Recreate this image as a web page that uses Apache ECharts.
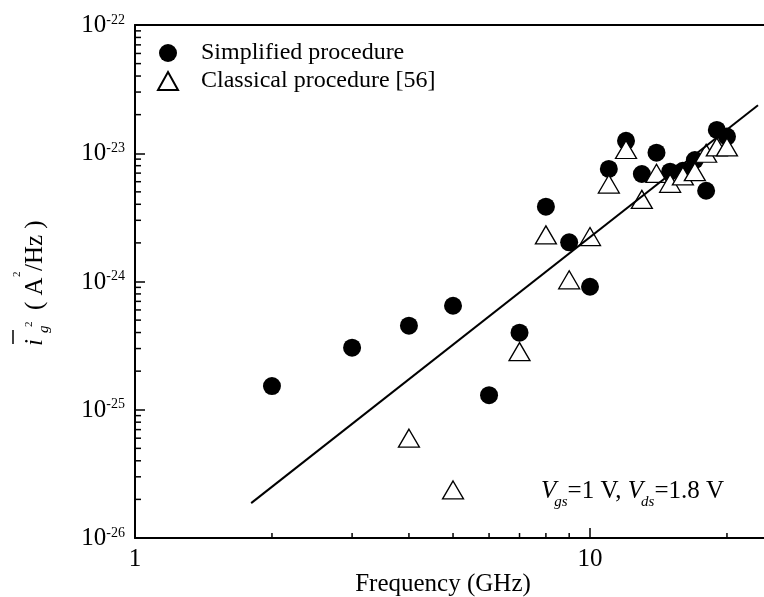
<!DOCTYPE html>
<html>
<head>
<meta charset="utf-8">
<script src="https://cdn.jsdelivr.net/npm/echarts@6/dist/echarts.min.js"></script>
<style>
  html, body { margin: 0; padding: 0; background: #fff; }
  #chart { width: 764px; height: 597px; }
</style>
</head>
<body>
<div id="chart"></div>
<script>
// Gate current noise spectral density (A^2/Hz) versus frequency (GHz)
const freqSimplified = [2, 3, 4, 5, 6, 7, 8, 9, 10, 11, 12, 13, 14, 15, 16, 17, 18, 19, 20];
const noiseSimplified = [1.53e-25, 3.05e-25, 4.52e-25, 6.47e-25, 1.30e-25, 3.99e-25, 3.83e-24, 2.02e-24, 9.1e-25,
  7.54e-24, 1.25e-23, 6.89e-24, 1.01e-23, 7.18e-24, 7.3e-24, 8.85e-24, 5.1e-24, 1.52e-23, 1.35e-23];

const freqClassical = [4, 5, 7, 8, 9, 10, 11, 12, 13, 14, 15, 16, 17, 18, 19, 20];
const noiseClassical = [6.0e-26, 2.37e-26, 2.84e-25, 2.31e-24, 1.03e-24, 2.24e-24, 5.75e-24, 1.07e-23,
  4.37e-24, 6.97e-24, 5.83e-24, 6.65e-24, 7.18e-24, 1.0e-23, 1.12e-23, 1.12e-23];

// Power-law trend line end points
const trendFreq = [1.8, 23.4];
const trendNoise = [1.87e-26, 2.37e-23];

// Axis ranges and minor tick positions
const xRange = [1, 30];
const yRange = [1e-26, 1e-22];
const xMinorTicks = [2, 3, 4, 5, 6, 7, 8, 9, 20];
const yMantissas = [2, 3, 4, 5, 6, 7, 8, 9];
const yDecades = [-26, -25, -24, -23];

// The y axis works in multiples of 1e-26 A^2/Hz so the log scale keeps full precision
const Y_UNIT_EXP = -26;
const Y_UNIT = 1e-26;
const toUnit = v => v / Y_UNIT;

const FONT = '"Liberation Serif", "Times New Roman", serif';

const yMinorTicks = [];
yDecades.forEach(d => yMantissas.forEach(m => yMinorTicks.push(m * Math.pow(10, d - Y_UNIT_EXP))));

// text measurement for the inline bias-condition annotation
const measureCtx = document.createElement('canvas').getContext('2d');
function textWidth(txt, size, italic) {
  measureCtx.font = (italic ? 'italic ' : '') + size + 'px ' + FONT;
  return measureCtx.measureText(txt).width;
}
function biasLabel(x0, baseline) {
  const parts = [
    { t: 'V', size: 25, it: true, dy: 0, kern: -2 },
    { t: 'gs', size: 15, it: true, dy: 8, kern: 0 },
    { t: '=1 V, ', size: 25, it: false, dy: 0, kern: 0 },
    { t: 'V', size: 25, it: true, dy: 0, kern: -2 },
    { t: 'ds', size: 15, it: true, dy: 8, kern: 0 },
    { t: '=1.8 V', size: 25, it: false, dy: 0, kern: 0 }
  ];
  const children = [];
  let x = x0;
  parts.forEach(p => {
    children.push({
      type: 'text', x: x, y: baseline + p.dy - 0.3 * p.size,
      style: { text: p.t, fontFamily: FONT, fontSize: p.size, fontStyle: p.it ? 'italic' : 'normal',
        fill: '#000', align: 'left', verticalAlign: 'middle' }
    });
    x += textWidth(p.t, p.size, p.it) + p.kern;
  });
  return { type: 'group', silent: true, children: children };
}

const chart = echarts.init(document.getElementById('chart'), null, { renderer: 'canvas' });

const plotLeft = 135, plotTop = 25, plotHeight = 513;
const pxPerDecadeX = 455;
const plotWidth = pxPerDecadeX * Math.log10(xRange[1]);

chart.setOption({
  animation: false,
  backgroundColor: '#fff',
  grid: {
    left: plotLeft, top: plotTop, width: plotWidth, height: plotHeight,
    containLabel: false, outerBoundsMode: 'none'
  },
  legend: {
    orient: 'vertical',
    left: 157, top: 41, padding: 0,
    itemWidth: 20, itemHeight: 18, itemGap: 4,
    selectedMode: false,
    textStyle: { fontFamily: FONT, fontSize: 24, color: '#000', lineHeight: 24, padding: [0, 0, 0, 18] },
    data: [
      { name: 'Simplified procedure', icon: 'circle' },
      { name: 'Classical procedure [56]', icon: 'triangle' }
    ]
  },
  xAxis: [{
    type: 'log', logBase: 10, min: xRange[0], max: xRange[1],
    axisLine: { show: true, lineStyle: { color: '#000', width: 2 } },
    axisTick: { show: true, inside: true, length: 10, lineStyle: { color: '#000', width: 1.5 } },
    minorTick: { show: false },
    splitLine: { show: false },
    axisLabel: {
      margin: 9, color: '#000', fontFamily: FONT, fontSize: 25,
      showMaxLabel: false,
      formatter: v => String(Math.round(v))
    }
  }, {
    type: 'log', logBase: 10, min: xRange[0], max: xRange[1], position: 'top',
    axisLine: { show: true, lineStyle: { color: '#000', width: 2 } },
    axisTick: { show: false }, axisLabel: { show: false }, splitLine: { show: false }
  }],
  yAxis: {
    type: 'log', logBase: 10, min: toUnit(yRange[0]), max: toUnit(yRange[1]),
    axisLine: { show: true, lineStyle: { color: '#000', width: 2 } },
    axisTick: { show: true, inside: true, length: 10, lineStyle: { color: '#000', width: 1.5 } },
    minorTick: { show: false },
    splitLine: { show: false },
    axisLabel: {
      margin: 10, color: '#000',
      formatter: v => '{b|10}{s|' + (Math.round(Math.log10(v)) + Y_UNIT_EXP) + '}',
      rich: {
        b: { fontFamily: FONT, fontSize: 25, lineHeight: 24, verticalAlign: 'top', color: '#000' },
        s: { fontFamily: FONT, fontSize: 14, lineHeight: 4, verticalAlign: 'top', color: '#000' }
      }
    }
  },
  series: [
    {
      type: 'custom', name: 'x minor ticks', silent: true, z: 1,
      data: xMinorTicks.map(v => [v, toUnit(yRange[0])]),
      renderItem: (params, api) => {
        const p = api.coord([api.value(0), toUnit(yRange[0])]);
        return { type: 'line', shape: { x1: p[0], y1: p[1], x2: p[0], y2: p[1] - 5 },
          style: { stroke: '#000', lineWidth: 1.5 } };
      }
    },
    {
      type: 'custom', name: 'y minor ticks', silent: true, z: 1,
      data: yMinorTicks.map(v => [xRange[0], v]),
      renderItem: (params, api) => {
        const p = api.coord([xRange[0], api.value(1)]);
        return { type: 'line', shape: { x1: p[0], y1: p[1], x2: p[0] + 6, y2: p[1] },
          style: { stroke: '#000', lineWidth: 1.5 } };
      }
    },
    {
      type: 'scatter', name: 'Simplified procedure', z: 2,
      symbol: 'circle', symbolSize: 18,
      itemStyle: { color: '#000', opacity: 1 },
      data: freqSimplified.map((f, i) => [f, toUnit(noiseSimplified[i])])
    },
    {
      type: 'scatter', name: 'Classical procedure [56]', z: 3,
      symbol: 'triangle', symbolSize: [21, 18],
      itemStyle: { color: '#fff', borderColor: '#000', borderWidth: 1.3, opacity: 1 },
      data: freqClassical.map((f, i) => [f, toUnit(noiseClassical[i])])
    },
    {
      type: 'line', name: 'trend', z: 4,
      showSymbol: false, symbol: 'none', silent: true,
      lineStyle: { color: '#000', width: 2 },
      data: trendFreq.map((f, i) => [f, toUnit(trendNoise[i])])
    }
  ],
  graphic: [
    // x-axis title
    {
      type: 'text', x: 443, y: 584.5, silent: true,
      style: { text: 'Frequency (GHz)', fontFamily: FONT, fontSize: 25, fill: '#000',
        align: 'center', verticalAlign: 'middle' }
    },
    // y-axis title, rotated
    {
      type: 'group', x: 43, y: 350, rotation: Math.PI / 2, silent: true,
      children: [
        { type: 'text', x: 4, y: -7.5,
          style: { text: 'i', fontFamily: FONT, fontStyle: 'italic', fontSize: 25, fill: '#000', verticalAlign: 'middle' } },
        { type: 'line', shape: { x1: 6, y1: -30, x2: 20, y2: -30 },
          style: { stroke: '#000', lineWidth: 1.5 } },
        { type: 'text', x: 17, y: 1.5,
          style: { text: 'g', fontFamily: FONT, fontStyle: 'italic', fontSize: 15, fill: '#000', verticalAlign: 'middle' } },
        { type: 'text', x: 23, y: -14,
          style: { text: '2', fontFamily: FONT, fontSize: 11, fill: '#000', verticalAlign: 'middle' } },
        { type: 'text', x: 40, y: -7.5,
          style: { text: '( A', fontFamily: FONT, fontSize: 25, fill: '#000', verticalAlign: 'middle' } },
        { type: 'text', x: 73, y: -26,
          style: { text: '2', fontFamily: FONT, fontSize: 11, fill: '#000', verticalAlign: 'middle' } },
        { type: 'text', x: 79, y: -7.5,
          style: { text: '/Hz )', fontFamily: FONT, fontSize: 25, fill: '#000', verticalAlign: 'middle' } }
      ]
    },
    // bias condition
    biasLabel(541, 499)
  ]
});
</script>
</body>
</html>
